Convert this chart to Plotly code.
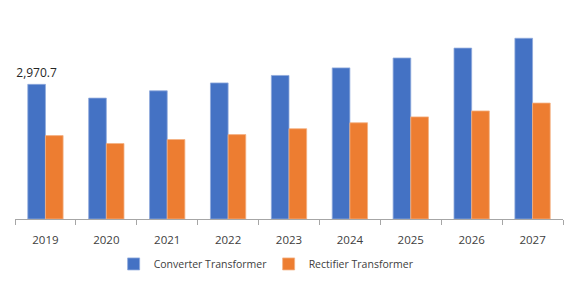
import plotly.graph_objects as go

years = ["2019", "2020", "2021", "2022", "2023", "2024", "2025", "2026", "2027"]
converter = [2970.7, 2667, 2828, 3002, 3167, 3334, 3552, 3770, 3987]
rectifier = [1840, 1666, 1753, 1862, 1992, 2123, 2253, 2384, 2558]
converter_labels = ["2,970.7", "", "", "", "", "", "", "", ""]

fig = go.Figure()
fig.add_trace(go.Bar(
    x=years, y=converter, name="Converter Transformer",
    marker=dict(color="#4472C4", line=dict(color="#8FAADC", width=0.8)),
    text=converter_labels, textposition="outside", cliponaxis=False,
    constraintext="none",
    textfont=dict(size=12, color="#262626"),
))
fig.add_trace(go.Bar(
    x=years, y=rectifier, name="Rectifier Transformer",
    marker=dict(color="#ED7D31", line=dict(color="#F4B183", width=0.8)),
))

fig.update_layout(
    width=579, height=289,
    margin=dict(l=15, r=16, t=10, b=67),
    paper_bgcolor="white", plot_bgcolor="white",
    barmode="group", bargap=0.42, bargroupgap=0,
    font=dict(family="Open Sans", size=11, color="#404040"),
    showlegend=True,
    legend=dict(orientation="h", x=0.18, xanchor="left", y=-0.215, yanchor="middle",
                font=dict(size=10.5, color="#404040"), itemwidth=30,
                entrywidth=110, entrywidthmode="pixels",
                traceorder="normal"),
)
fig.update_xaxes(
    type="category", showline=True, linecolor="#A6A6A6", linewidth=1,
    ticks="outside", tickson="boundaries", ticklen=5, tickcolor="#A6A6A6",
    ticklabelstandoff=10,
    showgrid=False, tickfont=dict(size=11.5, color="#404040"),
)
fig.update_yaxes(visible=False, range=[0, 4611], showgrid=False)

fig.write_html("out.html")
